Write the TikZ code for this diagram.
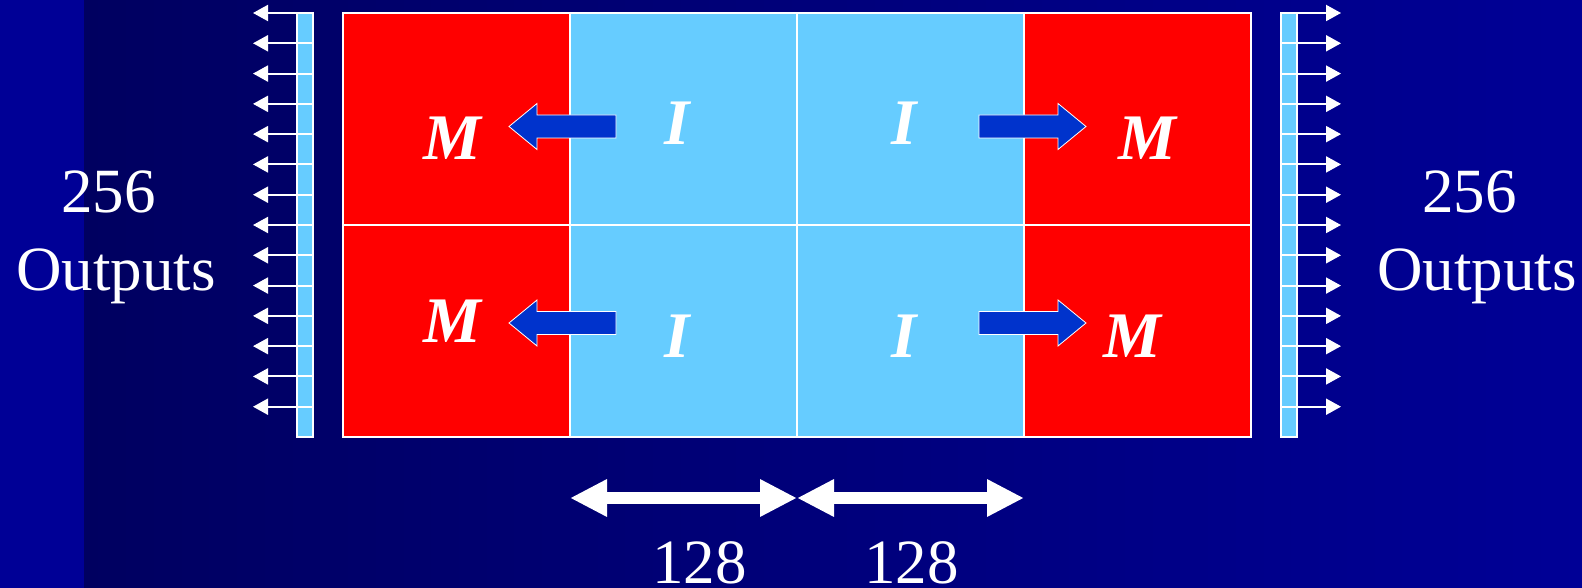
\documentclass[tikz,border=0pt]{standalone}
\usepackage{fontspec}
\setmainfont{Liberation Serif}
\usetikzlibrary{arrows.meta}

\definecolor{stripblue}{RGB}{0,0,150}
\definecolor{bgleft}{RGB}{0,0,96}
\definecolor{bgright}{RGB}{0,0,150}
\definecolor{mred}{RGB}{255,0,0}
\definecolor{ilight}{RGB}{102,204,255}
\definecolor{arrowblue}{RGB}{0,51,204}

\tikzset{
  cellbox/.style={draw=white, line width=2pt, minimum width=227pt, minimum height=212pt,
    inner sep=0pt, outer sep=0pt},
  mcell/.style={cellbox, fill=mred},
  icell/.style={cellbox, fill=ilight},
  buscell/.style={draw=white, line width=1.6pt, fill=ilight, minimum width=16pt,
    minimum height=30.2857pt, inner sep=0pt, outer sep=0pt},
  busarrow/.style={draw=white, line width=2pt, -{Triangle[length=15pt,width=16pt]}},
  dimarrow/.style={draw=white, line width=12pt,
    {Triangle[length=37pt,width=35pt]}-{Triangle[length=37pt,width=35pt]}},
  fatarrowstyle/.style={fill=arrowblue, draw=white, line width=0.8pt, line join=miter},
  pics/fatright/.style={code={
    \draw[fatarrowstyle] (0,0) -- (-28,23) -- (-28,11.5) -- (-107,11.5)
      -- (-107,-11.5) -- (-28,-11.5) -- (-28,-23) -- cycle;}},
  celltext/.style={text=white, inner sep=0pt, anchor=base,
    font=\fontsize{65}{65}\selectfont\bfseries\itshape},
  sidetext/.style={text=white, inner sep=0pt, anchor=base,
    font=\fontsize{63}{63}\selectfont},
}

\begin{document}
\begin{tikzpicture}[x=1pt, y=-1pt]
  \useasboundingbox (0,0) rectangle (1582,588);

  % background
  \fill[stripblue] (0,0) rectangle (84,588);
  \shade[left color=bgleft, right color=bgright] (84,0) rectangle (1582,588);

  % memory array: two rows of M | I | I | M
  \node[mcell] (m1) at (456.5,119) {};
  \node[icell] (i1) at (683.5,119) {};
  \node[icell] (i2) at (910.5,119) {};
  \node[mcell] (m2) at (1137.5,119) {};
  \node[mcell] (m3) at (456.5,331) {};
  \node[icell] (i3) at (683.5,331) {};
  \node[icell] (i4) at (910.5,331) {};
  \node[mcell] (m4) at (1137.5,331) {};

  % output buses with their arrows
  \coordinate (tipL) at (253,0);
  \coordinate (tipR) at (1341,0);
  \foreach \k in {0,...,13} {
    \pgfmathsetmacro\yc{13+30.2857*(\k+0.5)}
    \node[buscell] (L\k) at (305,\yc) {};
    \node[buscell] (R\k) at (1289,\yc) {};
  }
  \foreach \k in {0,...,13} {
    \draw[busarrow] (L\k.north east) -- (L\k.north east -| tipL);
    \draw[busarrow] (R\k.north west) -- (R\k.north west -| tipR);
  }

  % arrows from I to M
  \pic[xscale=-1] at (509,126.5) {fatright};
  \pic at (1086,126.5) {fatright};
  \pic[xscale=-1] at (509,323) {fatright};
  \pic at (1086,323) {fatright};

  % cell labels
  \node[celltext] (lm1) at (452,160) {M};
  \node[celltext] (li1) at (677,145) {I};
  \node[celltext] (li2) at (904,145) {I};
  \node[celltext] (lm2) at (1147,160) {M};
  \node[celltext] (lm3) at (452,342) {M};
  \node[celltext] (li3) at (677,357) {I};
  \node[celltext] (li4) at (904,357) {I};
  \node[celltext] (lm4) at (1132,357) {M};

  % side captions
  \node[sidetext] (nl) at (108.5,213) {256};
  \node[sidetext] (ol) at (116,290) {Outputs};
  \node[sidetext] (nr) at (1469.5,213) {256};
  \node[sidetext] (or) at (1477,290) {Outputs};

  % width dimensions
  \coordinate (d0) at (570,498);
  \coordinate (d1) at (797,498);
  \coordinate (d2) at (1024,498);
  \draw[dimarrow] (d0) -- (d1);
  \draw[dimarrow] (d1) -- (d2);
  \node[sidetext] (w1) at (699.5,583) {128};
  \node[sidetext] (w2) at (911.5,583) {128};
\end{tikzpicture}
\end{document}
